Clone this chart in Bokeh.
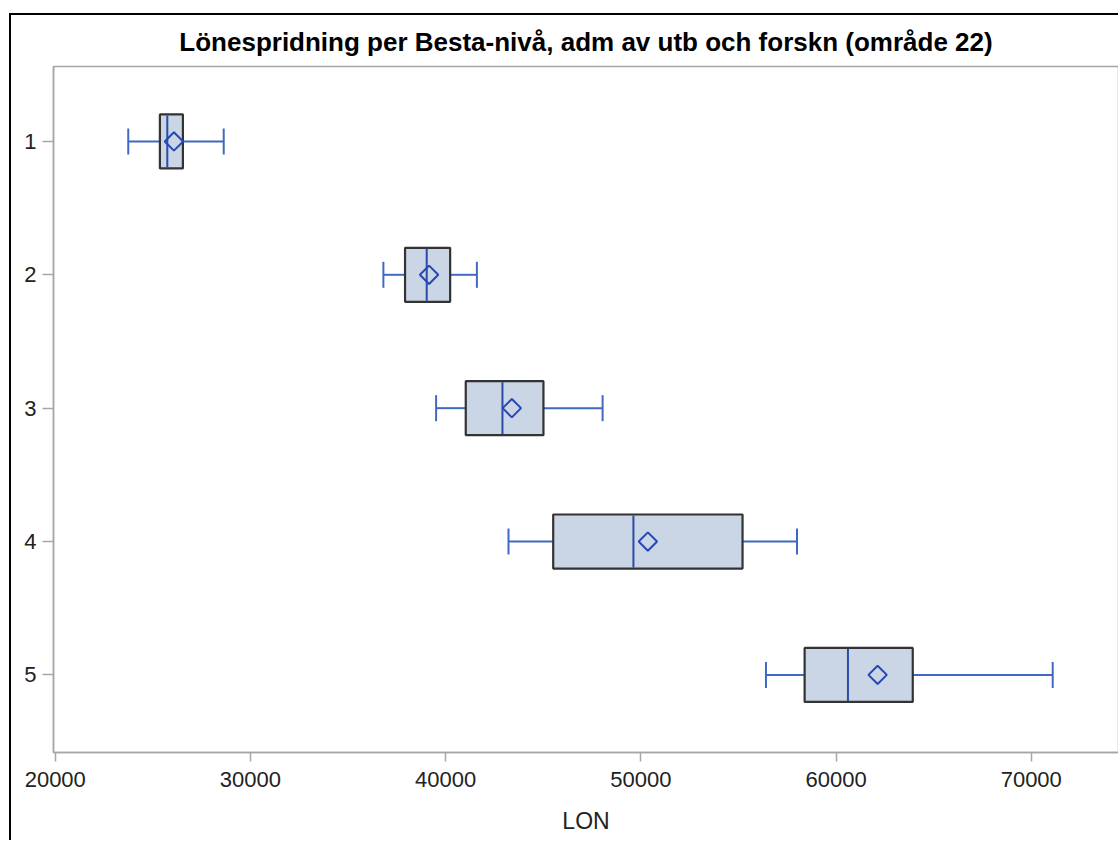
import math
from bokeh.plotting import figure
from bokeh.models import Range1d, FixedTicker, NumeralTickFormatter
from bokeh.embed import file_html
from bokeh.resources import INLINE

# ---- data ----
categories = [1, 2, 3, 4, 5]
whisker_low = [23740, 36810, 39510, 43220, 56410]
q1 = [25360, 37920, 41030, 45510, 58390]
median = [25740, 39030, 42910, 49620, 60610]
mean = [26080, 39150, 43390, 50360, 62130]
q3 = [26540, 40230, 45010, 55210, 63930]
whisker_high = [28630, 41600, 48040, 58000, 71100]
x_ticks = [20000, 30000, 40000, 50000, 60000, 70000]

TITLE = "Lönespridning per Besta-nivå, adm av utb och forskn (område 22)"
FONT = "Liberation Sans"

p = figure(
    width=1109, height=827,
    x_range=Range1d(19910, 74470),
    y_range=Range1d(5.582, 0.438),
    output_backend="svg", toolbar_location=None,
    title=TITLE,
    min_border_left=42, min_border_top=51, min_border_right=2, min_border_bottom=90,
)
p.margin = (13, 0, 0, 9)
p.styles = {"border-left": "2px solid black", "border-top": "2px solid black"}

p.title.text_font = FONT
p.title.text_font_size = "26px"
p.title.text_font_style = "bold"
p.title.text_color = "black"
p.title.align = "center"
p.title.standoff = 19

p.xgrid.visible = False
p.ygrid.visible = False
p.outline_line_color = "#A6A6A6"
p.outline_line_width = 1.5
p.background_fill_color = "white"
p.border_fill_color = "white"

# axes
xa = p.xaxis[0]
xa.ticker = FixedTicker(ticks=x_ticks)
xa.formatter = NumeralTickFormatter(format="0")
xa.axis_label = "LON"
ya = p.yaxis[0]
ya.ticker = FixedTicker(ticks=categories)
for ax in (xa, ya):
    ax.axis_line_color = "#A6A6A6"
    ax.axis_line_width = 1.5
    ax.major_tick_line_color = "#A6A6A6"
    ax.major_tick_line_width = 1.5
    ax.major_tick_in = 0
    ax.minor_tick_line_color = None
    ax.major_label_text_font = FONT
    ax.major_label_text_font_size = "22px"
    ax.major_label_text_color = "#222222"
    ax.axis_label_text_font = FONT
    ax.axis_label_text_font_size = "23px"
    ax.axis_label_text_font_style = "normal"
    ax.axis_label_text_color = "#222222"
xa.major_tick_out = 9
xa.major_label_standoff = 10
xa.axis_label_standoff = 18
ya.major_tick_out = 11
ya.major_label_standoff = 6

BOX_H = 0.405
WHISK = "#4169C4"
MED = "#2A4CA8"
MEAN = "#2548B2"

# whiskers
p.segment(x0=whisker_low, y0=categories, x1=q1, y1=categories, line_color=WHISK, line_width=2)
p.segment(x0=q3, y0=categories, x1=whisker_high, y1=categories, line_color=WHISK, line_width=2)
p.scatter(x=whisker_low, y=categories, marker="dash", angle=math.pi / 2, size=26,
          line_color=WHISK, line_width=2)
p.scatter(x=whisker_high, y=categories, marker="dash", angle=math.pi / 2, size=26,
          line_color=WHISK, line_width=2)

# boxes
p.hbar(y=categories, left=q1, right=q3, height=BOX_H, fill_color="#CAD5E5",
       line_color="#333333", line_width=2.2)
# medians
p.scatter(x=median, y=categories, marker="dash", angle=math.pi / 2, size=52,
          line_color=MED, line_width=2)
# means
p.scatter(x=mean, y=categories, marker="square", angle=math.pi / 4, size=13,
          fill_color=None, line_color=MEAN, line_width=2)

open("out.html", "w").write(file_html(p, INLINE))
